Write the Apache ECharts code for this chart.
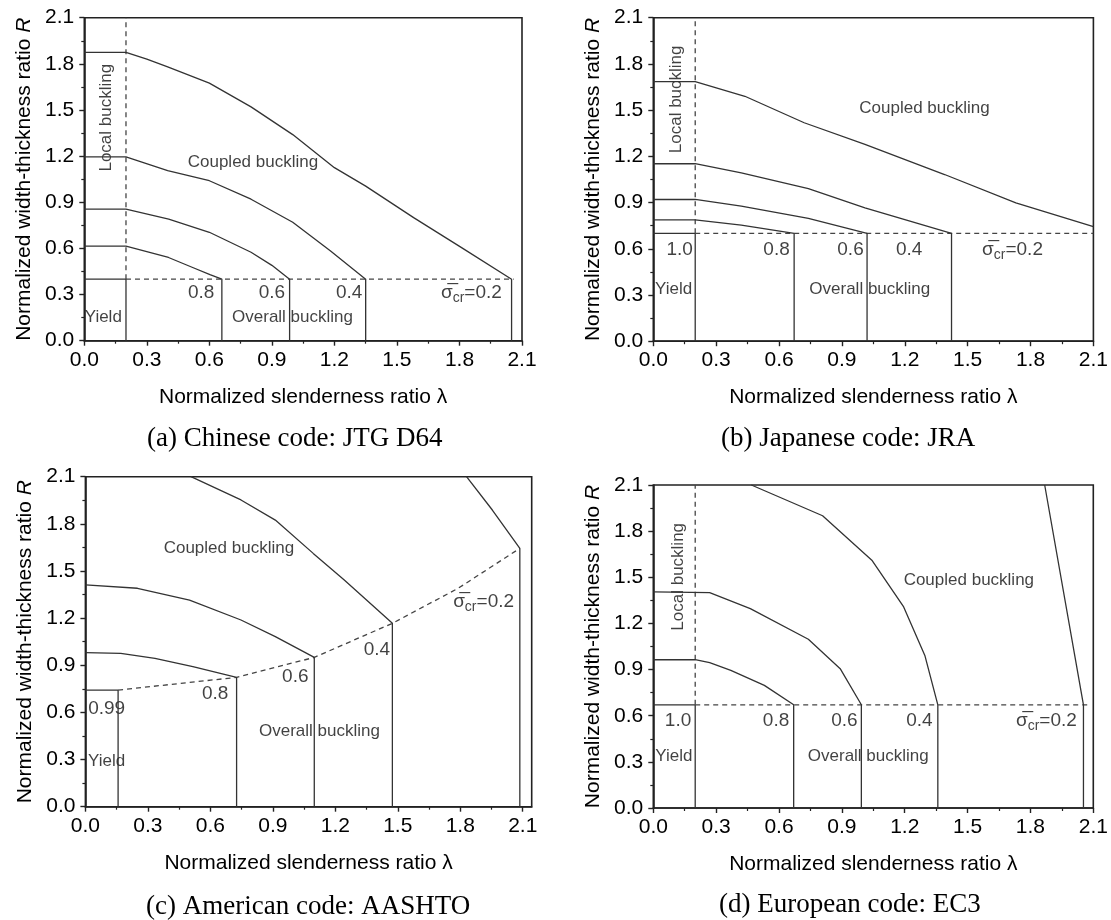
<!DOCTYPE html>
<html>
<head>
<meta charset="utf-8">
<script src="https://cdn.jsdelivr.net/npm/echarts@6/dist/echarts.min.js"></script>
<style>
html,body{margin:0;padding:0;background:#fff;}
#chart{width:1111px;height:920px;}
</style>
</head>
<body>
<div id="chart"></div>
<script>
// ---------- tick values ----------
var tickValues = [0, 0.3, 0.6, 0.9, 1.2, 1.5, 1.8, 2.1];

// ---------- (a) Chinese code: JTG D64 ----------
var aYield   = [[0,0.40],[0.2,0.40],[0.2,0]];
var aLocal   = [[0.2,0.40],[0.2,2.1]];
var aLimit   = [[0.2,0.40],[2.06,0.40]];
var aS08 = [[0,0.615],[0.2,0.615],[0.404,0.541],[0.52,0.476],[0.603,0.429],[0.66,0.40],[0.66,0]];
var aS06 = [[0,0.855],[0.2,0.855],[0.405,0.79],[0.6,0.705],[0.8,0.575],[0.9,0.49],[0.985,0.40],[0.985,0]];
var aS04 = [[0,1.195],[0.2,1.195],[0.4,1.105],[0.6,1.04],[0.8,0.92],[1.0,0.77],[1.18,0.585],[1.35,0.40],[1.35,0]];
var aS02 = [[0,1.875],[0.2,1.875],[0.3,1.83],[0.4,1.78],[0.6,1.675],[0.8,1.52],[1.0,1.34],[1.2,1.125],[1.35,1.005],[1.58,0.80],[1.81,0.605],[2.05,0.40],[2.05,0]];

// ---------- (b) Japanese code: JRA ----------
var bYield   = [[0,0.70],[0.2,0.70],[0.2,0]];
var bLocal   = [[0.2,0.70],[0.2,2.1]];
var bLimit   = [[0.2,0.70],[2.1,0.70]];
var bS08 = [[0,0.787],[0.2,0.787],[0.42,0.753],[0.672,0.70],[0.672,0]];
var bS06 = [[0,0.92],[0.2,0.92],[0.42,0.877],[0.74,0.797],[1.02,0.70],[1.02,0]];
var bS04 = [[0,1.152],[0.2,1.152],[0.42,1.093],[0.74,0.99],[1.01,0.866],[1.423,0.70],[1.423,0]];
var bS02 = [[0,1.685],[0.2,1.685],[0.437,1.59],[0.72,1.418],[1.01,1.277],[1.39,1.082],[1.73,0.898],[2.1,0.743]];

// ---------- (c) American code: AASHTO ----------
var cYield   = [[0,0.742],[0.157,0.742],[0.157,0]];
var cLimit   = [[0.157,0.742],[0.726,0.823],[1.099,0.95],[1.474,1.167],[1.79,1.39],[2.086,1.644]];
var cS08 = [[0,0.98],[0.17,0.976],[0.334,0.944],[0.516,0.891],[0.726,0.823],[0.726,0]];
var cS06 = [[0,1.411],[0.25,1.39],[0.5,1.315],[0.747,1.188],[0.912,1.082],[1.099,0.95],[1.099,0]];
var cS04 = [[0.507,2.1],[0.747,1.952],[0.912,1.824],[1.094,1.612],[1.243,1.443],[1.474,1.167],[1.474,0]];
var cS02 = [[1.83,2.1],[1.954,1.888],[2.086,1.644],[2.086,0]];

// ---------- (d) European code: EC3 ----------
var dYield   = [[0,0.671],[0.2,0.671],[0.2,0]];
var dLocal   = [[0.2,0.671],[0.2,2.1]];
var dLimit   = [[0.2,0.671],[2.08,0.671]];
var dS08 = [[0,0.964],[0.2,0.964],[0.269,0.945],[0.37,0.895],[0.53,0.797],[0.67,0.671],[0.67,0]];
var dS06 = [[0,1.405],[0.269,1.4],[0.463,1.296],[0.74,1.097],[0.892,0.906],[0.993,0.671],[0.993,0]];
var dS04 = [[0.468,2.1],[0.808,1.9],[1.043,1.611],[1.195,1.307],[1.296,0.992],[1.358,0.671],[1.358,0]];
var dS02 = [[1.868,2.1],[2.053,0.671],[2.053,0]];

// ---------- annotation texts [x, y, text, rotate] ----------
var SIG = '{s|σ\u0305}{c|cr}{s|=0.2}';
var aNotes = [[0.107,1.45,'Local buckling',90],[0.809,1.158,'Coupled buckling',0],[0.561,0.314,'0.8',0],[0.90,0.314,'0.6',0],[1.271,0.314,'0.4',0],[1.857,0.314,SIG,0],[0.091,0.152,'Yield',0],[0.999,0.152,'Overall buckling',0]];
var bNotes = [[0.109,1.57,'Local buckling',90],[1.294,1.511,'Coupled buckling',0],[0.126,0.595,'1.0',0],[0.588,0.595,'0.8',0],[0.941,0.595,'0.6',0],[1.221,0.595,'0.4',0],[1.714,0.595,SIG,0],[0.097,0.336,'Yield',0],[1.033,0.336,'Overall buckling',0]];
var cNotes = [[0.689,1.644,'Coupled buckling',0],[1.912,1.305,SIG,0],[1.40,0.997,'0.4',0],[1.008,0.827,'0.6',0],[0.623,0.721,'0.8',0],[0.102,0.626,'0.99',0],[1.124,0.477,'Overall buckling',0],[0.102,0.286,'Yield',0]];
var dNotes = [[0.118,1.503,'Local buckling',90],[1.506,1.481,'Coupled buckling',0],[0.118,0.569,'1.0',0],[0.586,0.569,'0.8',0],[0.912,0.569,'0.6',0],[1.27,0.569,'0.4',0],[1.876,0.569,SIG,0],[0.098,0.334,'Yield',0],[1.026,0.334,'Overall buckling',0]];

var captions = ['(a) Chinese code: JTG D64','(b) Japanese code: JRA','(c) American code: AASHTO','(d) European code: EC3'];
var xName = 'Normalized slenderness ratio λ';
var yName = '{a|Normalized width-thickness ratio }{b|R}';

// ---------- layout ----------
var FONT = '"Liberation Sans", Arial, sans-serif';
var grids = [
  {left:84.3, top:17.7, width:437.7, height:323},
  {left:653.3, top:17.7, width:440.4, height:323.5},
  {left:85.4, top:476.7, width:446.3, height:330},
  {left:653.3, top:485, width:440, height:323}
];
var xMax = [2.1, 2.1, 2.143, 2.1];
var capPos = [[147,441],[721,441],[146,909],[719,907]];

var LINE = '#333';
var AX = '#222';

var xAxes = [], yAxes = [], gridOpts = [];
grids.forEach(function(g, i){
  gridOpts.push({left:g.left, top:g.top, width:g.width, height:g.height, show:true, borderColor:AX, borderWidth:1.6, backgroundColor:'transparent', containLabel:false});
  xAxes.push({
    gridIndex:i, type:'value', min:0, max:xMax[i], interval:0.3,
    axisLine:{show:true, onZero:false, lineStyle:{color:AX, width:1.6}},
    axisTick:{show:true, inside:false, length:5, lineStyle:{color:AX, width:1.4}, customValues: tickValues},
    minorTick:{show:true, splitNumber:2, length:3, lineStyle:{color:AX, width:1.2}},
    splitLine:{show:false}, minorSplitLine:{show:false},
    axisLabel:{color:'#000', fontSize:21, fontFamily:FONT, margin:9, customValues: tickValues, formatter:function(v){return v.toFixed(1);}},
    name:xName, nameLocation:'middle', nameGap:46,
    nameTextStyle:{color:'#000', fontSize:21, fontFamily:FONT}
  });
  yAxes.push({
    gridIndex:i, type:'value', min:0, max:2.1, interval:0.3,
    axisLine:{show:true, onZero:false, lineStyle:{color:AX, width:1.6}},
    axisTick:{show:true, inside:false, length:5, lineStyle:{color:AX, width:1.4}},
    minorTick:{show:true, splitNumber:2, length:3, lineStyle:{color:AX, width:1.2}},
    splitLine:{show:false}, minorSplitLine:{show:false},
    axisLabel:{color:'#000', fontSize:21, fontFamily:FONT, margin:10, formatter:function(v){return v.toFixed(1);}},
    name:yName, nameLocation:'middle', nameGap:50,
    nameTextStyle:{color:'#000', fontSize:21, fontFamily:FONT,
      rich:{a:{fontSize:21, fontFamily:FONT, color:'#000'}, b:{fontSize:21, fontFamily:FONT, color:'#000', fontStyle:'italic'}}}
  });
});

var series = [];
function addLine(i, data, dashed){
  series.push({
    type:'line', xAxisIndex:i, yAxisIndex:i, data:data, symbol:'none', silent:true, animation:false,
    clip:false,
    lineStyle: dashed ? {color:'#444', width:1.3, type:[5,4]} : {color:LINE, width:1.3}
  });
}
function addNotes(i, notes){
  series.push({
    type:'scatter', xAxisIndex:i, yAxisIndex:i, symbolSize:0, silent:true, animation:false,
    data: notes.map(function(n){
      return {value:[n[0], n[1]], label:{
        show:true, position:'inside', rotate:n[3], formatter:n[2],
        color:'#111', fontFamily:FONT,
        fontSize: /^[0-9.]+$/.test(n[2]) ? 19 : 17,
        rich:{ s:{fontSize:19, fontFamily:FONT, color:'#111'}, c:{fontSize:14, fontFamily:FONT, color:'#111', padding:[11,0,0,0]} }
      }};
    })
  });
}
var panels = [
  [aYield, aLocal, aLimit, aS08, aS06, aS04, aS02, aNotes],
  [bYield, bLocal, bLimit, bS08, bS06, bS04, bS02, bNotes],
  [cYield, null, cLimit, cS08, cS06, cS04, cS02, cNotes],
  [dYield, dLocal, dLimit, dS08, dS06, dS04, dS02, dNotes]
];
panels.forEach(function(p, i){
  addLine(i, p[0], false);
  if (p[1]) addLine(i, p[1], true);
  addLine(i, p[2], true);
  addLine(i, p[3], false);
  addLine(i, p[4], false);
  addLine(i, p[5], false);
  addLine(i, p[6], false);
  addNotes(i, p[7]);
});

var graphics = captions.map(function(t, i){
  return {type:'text', left:capPos[i][0], top:capPos[i][1]-16, silent:true,
    style:{text:t, fill:'#000', font:'27px "Liberation Serif", "Times New Roman", serif'}};
});

var chart = echarts.init(document.getElementById('chart'), null, {renderer:'canvas', width:1111, height:920});
chart.setOption({
  backgroundColor:'#fff',
  animation:false,
  grid: gridOpts,
  xAxis: xAxes,
  yAxis: yAxes,
  series: series,
  graphic: graphics
});
</script>
</body>
</html>
